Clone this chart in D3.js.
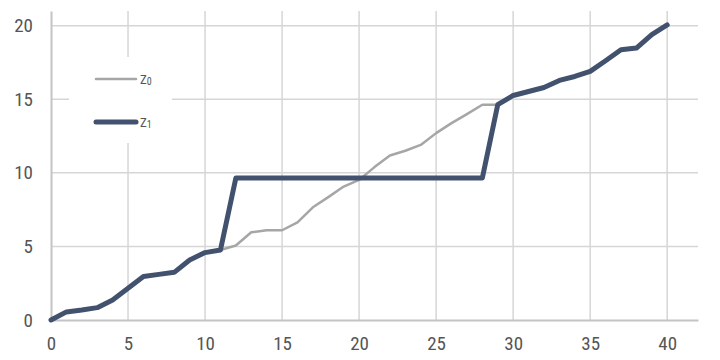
<!DOCTYPE html>
<html>
<head>
<meta charset="utf-8">
<script src="https://cdn.jsdelivr.net/npm/d3@7"></script>
<style>
  body { margin: 0; background: #fff; }
  svg text { font-family: "Roboto Condensed", "Liberation Sans Narrow", Roboto, sans-serif; fill: #555; }
</style>
</head>
<body>
<svg id="chart" width="720" height="360"></svg>
<script>
// x positions 0..40
const xs = d3.range(0, 41);

const z0 = [0, 0.55, 0.68, 0.84, 1.36, 2.15, 2.95, 3.1, 3.24, 4.08, 4.58, 4.76,
  5.06, 5.96, 6.1, 6.1, 6.64, 7.66, 8.35, 9.07, 9.52, 10.39, 11.18, 11.5, 11.9,
  12.7, 13.38, 13.99, 14.63, 14.63, 15.26, 15.53, 15.8, 16.28, 16.55, 16.9,
  17.62, 18.37, 18.48, 19.39, 20.05];

const z1 = [0, 0.55, 0.68, 0.84, 1.36, 2.15, 2.95, 3.1, 3.24, 4.08, 4.58, 4.76,
  9.65, 9.65, 9.65, 9.65, 9.65, 9.65, 9.65, 9.65, 9.65, 9.65, 9.65, 9.65, 9.65,
  9.65, 9.65, 9.65, 9.65, 14.63, 15.26, 15.53, 15.8, 16.28, 16.55, 16.9,
  17.62, 18.37, 18.48, 19.39, 20.05];

const xTicks = [0, 5, 10, 15, 20, 25, 30, 35, 40];
const yTicks = [0, 5, 10, 15, 20];

const seriesNames = ["0", "1"];
const colors = ["#a6a6a6", "#42526e"];
const widths = [2.5, 5];

const svg = d3.select("#chart");
const margin = { top: 11, right: 22, bottom: 40, left: 51 };
const width = 720, height = 360;

const x = d3.scaleLinear().domain([0, 42]).range([margin.left, width - margin.right]);
const y = d3.scaleLinear().domain([0, 21]).range([height - margin.bottom, margin.top]);

// grid
const grid = svg.append("g");
grid.selectAll(".gx").data(xTicks.slice(1)).join("line")
  .attr("x1", d => x(d)).attr("x2", d => x(d))
  .attr("y1", y(21)).attr("y2", y(0))
  .attr("stroke", "#d6d6d6").attr("stroke-width", 1.5);
grid.selectAll(".gy").data(yTicks.slice(1)).join("line")
  .attr("x1", x(0)).attr("x2", x(42))
  .attr("y1", d => y(d)).attr("y2", d => y(d))
  .attr("stroke", "#d6d6d6").attr("stroke-width", 1.5);

// axes
const xAxis = svg.append("g")
  .attr("transform", `translate(0,${y(0)})`)
  .call(d3.axisBottom(x).tickValues(xTicks).tickSize(0).tickPadding(17));
xAxis.select(".domain").attr("stroke", "#c4c4c4").attr("stroke-width", 2);
xAxis.selectAll("text").attr("font-size", 19);

const yAxis = svg.append("g")
  .attr("transform", `translate(${x(0)},0)`)
  .call(d3.axisLeft(y).tickValues(yTicks).tickSize(0).tickPadding(18));
yAxis.select(".domain").attr("stroke", "#c4c4c4").attr("stroke-width", 2);
yAxis.selectAll("text").attr("font-size", 19);
svg.selectAll(".tick text").style("font-family", null).attr("fill", "#555");

// lines
const line = d3.line().x((d, i) => x(xs[i])).y(d => y(d));
[z0, z1].forEach((s, k) => {
  svg.append("path")
    .datum(s)
    .attr("fill", "none")
    .attr("stroke", colors[k])
    .attr("stroke-width", widths[k])
    .attr("stroke-linejoin", "round")
    .attr("stroke-linecap", "round")
    .attr("d", line);
});

// legend
const legend = svg.append("g");
legend.append("rect")
  .attr("x", 69).attr("y", 57).attr("width", 103).attr("height", 86)
  .attr("fill", "#fff");
seriesNames.forEach((n, k) => {
  const ly = 79 + k * 43;
  legend.append("line")
    .attr("x1", 96).attr("x2", 136).attr("y1", ly).attr("y2", ly)
    .attr("stroke", colors[k]).attr("stroke-width", widths[k])
    .attr("stroke-linecap", "round");
  const t = legend.append("text")
    .attr("x", 140).attr("y", ly + 5).attr("font-size", 13);
  t.append("tspan").text("Z");
  t.append("tspan").attr("font-size", 10).attr("dy", 1).text(n);
});
</script>
</body>
</html>
